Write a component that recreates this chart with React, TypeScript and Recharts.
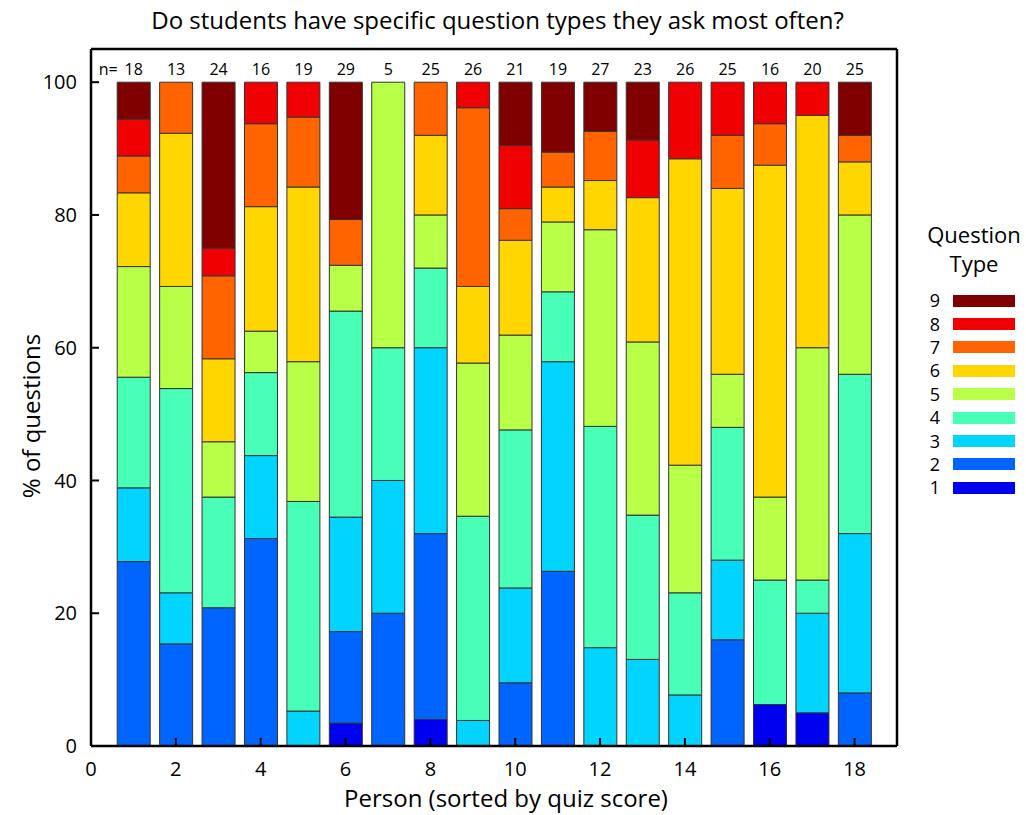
import { BarChart, Bar, XAxis, YAxis, LabelList } from 'recharts';

const persons = [1, 2, 3, 4, 5, 6, 7, 8, 9, 10, 11, 12, 13, 14, 15, 16, 17, 18];
const nValues = [18, 13, 24, 16, 19, 29, 5, 25, 26, 21, 19, 27, 23, 26, 25, 16, 20, 25];

// question counts per person, one array per question type
const type1 = [0, 0, 0, 0, 0, 1, 0, 1, 0, 0, 0, 0, 0, 0, 0, 1, 1, 0];
const type2 = [5, 2, 5, 5, 0, 4, 1, 7, 0, 2, 5, 0, 0, 0, 4, 0, 0, 2];
const type3 = [2, 1, 0, 2, 1, 5, 1, 7, 1, 3, 6, 4, 3, 2, 3, 0, 3, 6];
const type4 = [3, 4, 4, 2, 6, 9, 1, 3, 8, 5, 2, 9, 5, 4, 5, 3, 1, 6];
const type5 = [3, 2, 2, 1, 4, 2, 2, 2, 6, 3, 2, 8, 6, 5, 2, 2, 7, 6];
const type6 = [2, 3, 3, 3, 5, 0, 0, 3, 3, 3, 1, 2, 5, 12, 7, 8, 7, 2];
const type7 = [1, 1, 3, 2, 2, 2, 0, 2, 7, 1, 1, 2, 0, 0, 2, 1, 0, 1];
const type8 = [1, 0, 1, 1, 1, 0, 0, 0, 1, 2, 0, 0, 2, 3, 2, 1, 1, 0];
const type9 = [1, 0, 6, 0, 0, 6, 0, 0, 0, 2, 2, 2, 2, 0, 0, 0, 0, 2];

const typeCounts = [type1, type2, type3, type4, type5, type6, type7, type8, type9];
const typeNames = ['1', '2', '3', '4', '5', '6', '7', '8', '9'];
const typeColors = ['#0000f0', '#0064ff', '#00d4ff', '#48ffb8', '#b8ff48', '#ffd600', '#ff6400', '#f00000', '#800000'];

const xTicks = [0, 2, 4, 6, 8, 10, 12, 14, 16, 18];
const xTopTicks = [2, 4, 6, 8, 10, 12, 14, 16, 18];
const yTicks = [0, 20, 40, 60, 80, 100];

const data = persons.map((p, i) => {
  const row: Record<string, number> = { person: p, n: nValues[i] };
  let total = 0;
  typeCounts.forEach((counts, t) => {
    const pct = (counts[i] / nValues[i]) * 100;
    row['t' + typeNames[t]] = pct;
    total += pct;
  });
  row.total = total;
  return row;
});

const font = "'Open Sans', sans-serif";
const axisLine = { stroke: '#000', strokeWidth: 2.5 };
const tickLine = { stroke: '#000', strokeWidth: 2 };

// n= row, hung off an invisible bar that spans the whole stack
const NLabel = (props: any) => {
  const { x, y, width, index, value } = props;
  const cx = x + width / 2;
  return (
    <g>
      {index === 0 && (
        <text x={cx - 16} y={y - 7} textAnchor="end" fontSize={16} fill="#000">n=</text>
      )}
      <text x={cx} y={y - 7} textAnchor="middle" fontSize={16} fill="#000">{value}</text>
    </g>
  );
};

const LegendBox = () => (
  <div style={{ position: 'absolute', left: 900, top: 220, width: 126, fontFamily: font, color: '#000' }}>
    <div style={{ textAlign: 'center', fontSize: 22, lineHeight: '29px', paddingLeft: 22 }}>Question<br />Type</div>
    <div style={{ marginTop: 11 }}>
      {typeNames.slice().reverse().map((name) => (
        <div key={name} style={{ display: 'flex', alignItems: 'center', height: 23.4 }}>
          <span style={{ width: 40, textAlign: 'right', fontSize: 18, lineHeight: '19px' }}>{name}</span>
          <span style={{ display: 'inline-block', width: 62, height: 12, background: typeColors[typeNames.indexOf(name)], marginLeft: 13 }} />
        </div>
      ))}
    </div>
  </div>
);

const App = () => {
  return (
    <div style={{ position: 'absolute', left: 0, top: 0, width: 1026, height: 815, background: '#fff', fontFamily: font }}>
      <div style={{ position: 'absolute', left: 0, width: 995, top: 3, textAlign: 'center', fontSize: 24, color: '#000' }}>
        Do students have specific question types they ask most often?
      </div>
      <div style={{ position: 'absolute', left: 0, width: 1012, top: 781, textAlign: 'center', fontSize: 24, color: '#000' }}>
        Person (sorted by quiz score)
      </div>
      <div style={{
        position: 'absolute', left: 30, top: 416, fontSize: 24, color: '#000', whiteSpace: 'nowrap',
        transform: 'translate(-50%, -50%) rotate(-90deg)'
      }}>
        % of questions
      </div>
      <BarChart
        width={1026}
        height={815}
        data={data}
        barSize={33}
        margin={{ top: 48, right: 128, left: 90, bottom: 68 }}
        style={{ position: 'absolute', left: 0, top: 0 }}
      >
        <XAxis
          dataKey="person"
          type="number"
          domain={[0, 19]}
          allowDataOverflow
          ticks={xTicks}
          interval={0}
          height={1}
          tickSize={-8}
          tickMargin={24}
          axisLine={axisLine}
          tickLine={tickLine}
          tick={{ fill: '#000', fontSize: 20 }}
        />
        <XAxis
          xAxisId="top"
          dataKey="person"
          orientation="top"
          type="number"
          domain={[0, 19]}
          allowDataOverflow
          ticks={xTopTicks}
          interval={0}
          height={1}
          tickSize={-8}
          axisLine={axisLine}
          tickLine={tickLine}
          tick={false}
        />
        <YAxis
          type="number"
          domain={[0, 105]}
          allowDataOverflow
          ticks={yTicks}
          interval={0}
          width={1}
          tickSize={-8}
          tickMargin={22}
          axisLine={axisLine}
          tickLine={tickLine}
          tick={{ fill: '#000', fontSize: 20 }}
        />
        <YAxis
          yAxisId="right"
          orientation="right"
          type="number"
          domain={[0, 105]}
          allowDataOverflow
          ticks={yTicks}
          interval={0}
          width={1}
          tickSize={-8}
          axisLine={axisLine}
          tickLine={tickLine}
          tick={false}
        />
        {typeNames.map((name, t) => (
          <Bar
            key={name}
            dataKey={'t' + name}
            name={name}
            stackId="q"
            fill={typeColors[t]}
            stroke="#333"
            strokeWidth={1}
            isAnimationActive={false}
          />
        ))}
        <Bar
          dataKey="total"
          xAxisId="top"
          fill="none"
          stroke="none"
          isAnimationActive={false}
        >
          <LabelList dataKey="n" content={<NLabel />} />
        </Bar>
      </BarChart>
      <LegendBox />
    </div>
  );
};

export default App;
